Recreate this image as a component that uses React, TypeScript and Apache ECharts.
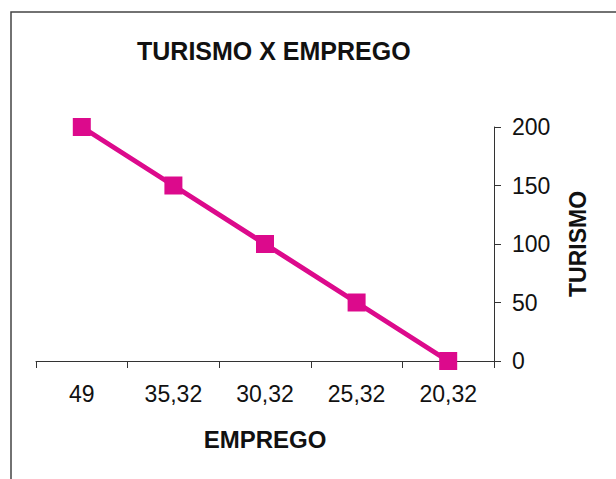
import React, { useEffect, useRef } from "react";
import * as echarts from "echarts";

const categories = ["49", "35,32", "30,32", "25,32", "20,32"];
const turismo = [200, 150, 100, 50, 0];
const yTicks = [0, 50, 100, 150, 200];

export default function App() {
  const ref = useRef<HTMLDivElement>(null);
  useEffect(() => {
    if (!ref.current) return;
    const chart = echarts.init(ref.current, undefined, { renderer: "svg" });
    chart.setOption({
      animation: false,
      backgroundColor: "#ffffff",
      textStyle: { fontFamily: "Liberation Sans, Arial, sans-serif" },
      title: {
        text: "TURISMO X EMPREGO",
        left: 132,
        top: 33,
        textStyle: { fontSize: 25, fontWeight: "bold", color: "#111", fontFamily: "Liberation Sans, Arial, sans-serif" },
      },
      graphic: [
        {
          type: "rect",
          shape: { x: 11, y: 12, width: 700, height: 600 },
          style: { fill: "none", stroke: "#444", lineWidth: 1.5 },
          silent: true,
        },
      ],
      grid: { left: 36, right: 122, top: 127, bottom: 118 },
      xAxis: {
        type: "category",
        data: categories,
        boundaryGap: true,
        name: "EMPREGO",
        nameLocation: "middle",
        nameGap: 66,
        nameTextStyle: { fontSize: 24, fontWeight: "bold", color: "#111" },
        axisLine: { lineStyle: { color: "#333", width: 1 } },
        axisTick: { show: true, length: 7, alignWithLabel: false, lineStyle: { color: "#333" } },
        axisLabel: { fontSize: 23, color: "#111", margin: 21 },
        splitLine: { show: false },
      },
      yAxis: {
        type: "value",
        position: "right",
        min: 0,
        max: 200,
        interval: 50,
        name: "TURISMO",
        nameLocation: "middle",
        nameRotate: 90,
        nameGap: 72,
        nameTextStyle: { fontSize: 23, fontWeight: "bold", color: "#111" },
        axisLine: { show: true, lineStyle: { color: "#333", width: 1 } },
        axisTick: { show: true, length: 7, lineStyle: { color: "#333" } },
        axisLabel: {
          fontSize: 23,
          color: "#111",
          margin: 18,
          formatter: (v: number) => (yTicks.includes(v) ? String(v) : ""),
        },
        splitLine: { show: false },
      },
      series: [
        {
          type: "line",
          data: turismo,
          symbol: "rect",
          symbolSize: 18,
          lineStyle: { color: "#DC0A8C", width: 5 },
          itemStyle: { color: "#DC0A8C" },
        },
      ],
    });
    return () => chart.dispose();
  }, []);
  return (
    <div
      ref={ref}
      style={{ position: "fixed", left: 0, top: 0, width: 616, height: 479 }}
    />
  );
}
